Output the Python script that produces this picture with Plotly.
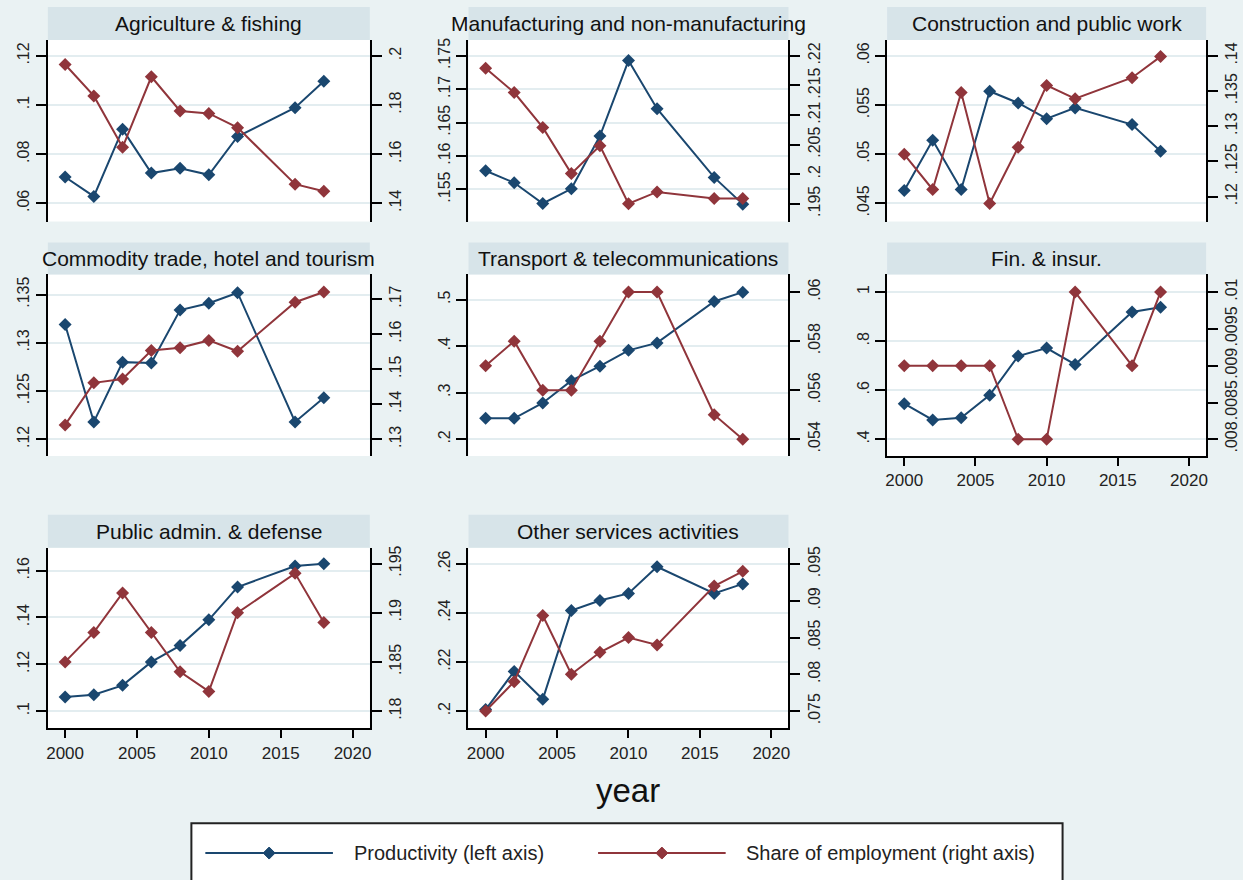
import plotly.graph_objects as go

# ---- data -------------------------------------------------------------
years = [2000, 2002, 2004, 2006, 2008, 2010, 2012, 2016, 2018]

sector_titles = [
    "Agriculture & fishing",
    "Manufacturing and non-manufacturing",
    "Construction and public work",
    "Commodity trade, hotel and tourism",
    "Transport & telecommunications",
    "Fin. & insur.",
    "Public admin. & defense",
    "Other services activities",
]

prod_agri = [0.0707, 0.0628, 0.0901, 0.0723, 0.0743, 0.0716, 0.0872, 0.0989, 0.1097]
emp_agri = [0.1965, 0.1837, 0.1628, 0.1915, 0.1776, 0.1766, 0.1708, 0.1478, 0.1449]

prod_manuf = [0.1578, 0.1560, 0.1529, 0.1551, 0.1630, 0.1743, 0.1671, 0.1568, 0.1528]
emp_manuf = [0.2179, 0.2138, 0.2079, 0.2001, 0.2048, 0.1950, 0.1970, 0.1959, 0.1959]

prod_constr = [0.0463, 0.0514, 0.0464, 0.0564, 0.0552, 0.0536, 0.0547, 0.0530, 0.0503]
emp_constr = [0.1260, 0.1210, 0.1348, 0.1190, 0.1270, 0.1358, 0.1339, 0.1369, 0.1399]

prod_trade = [0.1319, 0.1218, 0.1280, 0.1279, 0.1334, 0.1341, 0.1352, 0.1218, 0.1243]
emp_trade = [0.1341, 0.1461, 0.1472, 0.1553, 0.1561, 0.1582, 0.1551, 0.1691, 0.1720]

prod_transp = [0.245, 0.245, 0.278, 0.326, 0.357, 0.391, 0.407, 0.496, 0.516]
emp_transp = [0.057, 0.058, 0.056, 0.056, 0.058, 0.060, 0.060, 0.055, 0.054]

prod_fin = [0.545, 0.479, 0.488, 0.580, 0.739, 0.772, 0.705, 0.919, 0.938]
emp_fin = [0.009, 0.009, 0.009, 0.009, 0.008, 0.008, 0.010, 0.009, 0.010]

prod_admin = [0.106, 0.107, 0.111, 0.121, 0.128, 0.139, 0.153, 0.162, 0.163]
emp_admin = [0.185, 0.188, 0.192, 0.188, 0.184, 0.182, 0.190, 0.194, 0.189]

prod_other = [0.2006, 0.2162, 0.2048, 0.2410, 0.2451, 0.2480, 0.2589, 0.2480, 0.2519]
emp_other = [0.075, 0.079, 0.088, 0.080, 0.083, 0.085, 0.084, 0.092, 0.094]

# axis tick values (left = productivity, right = share of employment)
ticks_left = [
    [0.06, 0.08, 0.1, 0.12],
    [0.155, 0.16, 0.165, 0.17, 0.175],
    [0.045, 0.05, 0.055, 0.06],
    [0.12, 0.125, 0.13, 0.135],
    [0.2, 0.3, 0.4, 0.5],
    [0.4, 0.6, 0.8, 1],
    [0.1, 0.12, 0.14, 0.16],
    [0.2, 0.22, 0.24, 0.26],
]
ticks_right = [
    [0.14, 0.16, 0.18, 0.2],
    [0.195, 0.2, 0.205, 0.21, 0.215, 0.22],
    [0.12, 0.125, 0.13, 0.135, 0.14],
    [0.13, 0.14, 0.15, 0.16, 0.17],
    [0.054, 0.056, 0.058, 0.06],
    [0.008, 0.0085, 0.009, 0.0095, 0.01],
    [0.18, 0.185, 0.19, 0.195],
    [0.075, 0.08, 0.085, 0.09, 0.095],
]
year_ticks = [2000, 2005, 2010, 2015, 2020]

productivity = [prod_agri, prod_manuf, prod_constr, prod_trade,
                prod_transp, prod_fin, prod_admin, prod_other]
employment = [emp_agri, emp_manuf, emp_constr, emp_trade,
              emp_transp, emp_fin, emp_admin, emp_other]

# ---- styling / layout --------------------------------------------------
W, H = 1243, 880
NAVY = "#1a476f"
MAROON = "#90353b"
BG = "#eaf2f3"
BAND = "#d7e4e9"
GRID = "#e3edf0"
FONT = "Liberation Sans, Arial, sans-serif"

# pixel boxes of the plot regions
cols_px = [(46, 369), (468, 789), (888, 1208)]
rows_px = [(38, 220), (273, 455), (547, 728)]
bands_px = [(5, 38), (241, 273), (514, 547)]
cells = [(0, 0), (0, 1), (0, 2), (1, 0), (1, 1), (1, 2), (2, 0), (2, 1)]
with_year_axis = [False, False, False, False, False, True, True, True]

range_left = [
    [0.0526, 0.1265], [0.1502, 0.1774], [0.04314, 0.06162], [0.11827, 0.1371],
    [0.1642, 0.5542], [0.3321, 1.072], [0.09262, 0.1698], [0.19296, 0.26664],
]
range_right = [
    [0.1326, 0.2065], [0.1920, 0.2227], [0.11645, 0.14227], [0.12525, 0.17703],
    [0.05332, 0.06072], [0.007774, 0.01024], [0.17825, 0.1966], [0.07265, 0.09721],
]
year_range = [1998.8, 2021.2]


def px_x(v):
    return v / W


def px_y(v):
    return 1 - v / H


def stata_label(v):
    s = f"{v:g}"
    return s[1:] if s.startswith("0.") else s


fig = go.Figure()
layout = {}
shapes = []
annotations = []

for i, (r, c) in enumerate(cells):
    n = i + 1
    xid = "x" if n == 1 else f"x{n}"
    yl_n, yr_n = 2 * i + 1, 2 * i + 2
    ylid = "y" if yl_n == 1 else f"y{yl_n}"
    yrid = f"y{yr_n}"
    x0, x1 = cols_px[c]
    y0, y1 = rows_px[r]

    fig.add_trace(go.Scatter(
        x=years, y=productivity[i], xaxis=xid, yaxis=ylid,
        mode="lines+markers", name="Productivity (left axis)",
        line=dict(color=NAVY, width=2),
        marker=dict(symbol="diamond", size=10, color=NAVY),
        showlegend=False,
    ))
    fig.add_trace(go.Scatter(
        x=years, y=employment[i], xaxis=xid, yaxis=yrid,
        mode="lines+markers", name="Share of employment (right axis)",
        line=dict(color=MAROON, width=2),
        marker=dict(symbol="diamond", size=10, color=MAROON),
        showlegend=False,
    ))

    xa = dict(
        domain=[px_x(x0), px_x(x1)], anchor=ylid, range=year_range,
        showgrid=False, zeroline=False, fixedrange=True,
    )
    if with_year_axis[i]:
        xa.update(
            showline=True, linecolor="black", linewidth=2,
            ticks="outside", ticklen=8, tickwidth=2, tickcolor="black",
            tickvals=year_ticks, tickfont=dict(size=17, color="#222", family=FONT),
        )
    else:
        xa.update(showline=False, ticks="", showticklabels=False)

    common_y = dict(
        anchor=xid, showline=True, linecolor="black", linewidth=2,
        ticks="outside", ticklen=10, tickwidth=2, tickcolor="black",
        tickangle=-90, zeroline=False, fixedrange=True,
        tickfont=dict(size=16, color="#222", family=FONT),
    )
    yl = dict(
        domain=[px_y(y1), px_y(y0)], range=range_left[i], side="left",
        tickvals=ticks_left[i], ticktext=[stata_label(v) for v in ticks_left[i]],
        showgrid=True, gridcolor=GRID, gridwidth=2, **common_y,
    )
    yr = dict(
        overlaying=ylid, range=range_right[i], side="right",
        tickvals=ticks_right[i], ticktext=[stata_label(v) for v in ticks_right[i]],
        showgrid=False, **common_y,
    )
    layout["xaxis" if n == 1 else f"xaxis{n}"] = xa
    layout["yaxis" if yl_n == 1 else f"yaxis{yl_n}"] = yl
    layout[f"yaxis{yr_n}"] = yr

    # title band
    b0, b1 = bands_px[r]
    shapes.append(dict(
        type="rect", xref="paper", yref="paper", layer="below",
        x0=px_x(x0), x1=px_x(x1), y0=px_y(b1), y1=px_y(b0),
        fillcolor=BAND, line=dict(width=0),
    ))
    annotations.append(dict(
        text=sector_titles[i], xref="paper", yref="paper",
        x=px_x((x0 + x1) / 2), y=px_y((b0 + b1) / 2),
        xanchor="center", yanchor="middle", showarrow=False,
        font=dict(size=21, color="#111", family=FONT),
    ))

# shared x-axis title
annotations.append(dict(
    text="year", xref="paper", yref="paper", x=px_x(628), y=px_y(790),
    xanchor="center", yanchor="middle", showarrow=False,
    font=dict(size=33, color="#111", family=FONT),
))

# legend box with line-and-diamond keys
shapes.append(dict(
    type="rect", xref="paper", yref="paper",
    x0=px_x(190), x1=px_x(1064), y0=px_y(900), y1=px_y(823),
    fillcolor="white", line=dict(color="#222", width=2),
))
legend_keys = [
    (204, 332, 268, NAVY, 351, "Productivity (left axis)"),
    (598, 726, 662, MAROON, 744, "Share of employment (right axis)"),
]
ly = 853
for lx0, lx1, dx, color, tx, label in legend_keys:
    shapes.append(dict(
        type="line", xref="paper", yref="paper",
        x0=px_x(lx0), x1=px_x(lx1), y0=px_y(ly), y1=px_y(ly),
        line=dict(color=color, width=2),
    ))
    d = 6
    path = (f"M {px_x(dx)},{px_y(ly - d)} L {px_x(dx + d)},{px_y(ly)} "
            f"L {px_x(dx)},{px_y(ly + d)} L {px_x(dx - d)},{px_y(ly)} Z")
    shapes.append(dict(
        type="path", xref="paper", yref="paper", path=path,
        fillcolor=color, line=dict(color=color, width=1),
    ))
    annotations.append(dict(
        text=label, xref="paper", yref="paper", x=px_x(tx), y=px_y(ly),
        xanchor="left", yanchor="middle", showarrow=False,
        font=dict(size=20, color="#222", family=FONT),
    ))

fig.update_layout(
    width=W, height=H, margin=dict(l=0, r=0, t=0, b=0),
    paper_bgcolor=BG, plot_bgcolor="white",
    font=dict(family=FONT, color="#222"),
    showlegend=False, shapes=shapes, annotations=annotations,
    **layout,
)

fig.write_html("out.html", config={"displayModeBar": False})
